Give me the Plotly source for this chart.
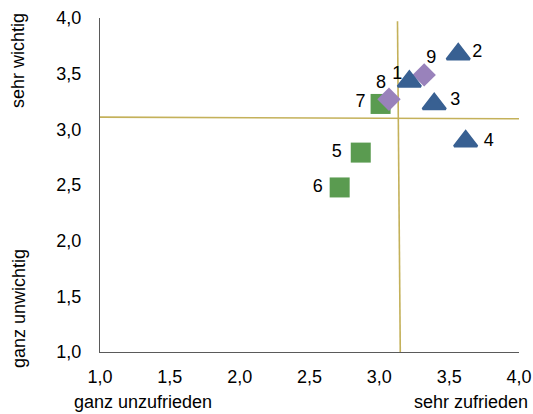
import plotly.graph_objects as go

# Portfolio points: satisfaction (x) vs. importance (y)
tri_ids = ["1", "2", "3", "4"]
tri_x = [3.215, 3.565, 3.393, 3.618]
tri_y = [3.430, 3.675, 3.228, 2.893]

dia_ids = ["8", "9"]
dia_x = [3.069, 3.321]
dia_y = [3.270, 3.489]

sq_ids = ["5", "6", "7"]
sq_x = [2.867, 2.716, 3.009]
sq_y = [2.791, 2.478, 3.228]

# Quadrant divider lines (mean satisfaction / mean importance)
vline_x = [3.130, 3.150]
vline_y = [3.97, 1.0]
hline_x = [1.0, 4.02]
hline_y = [3.110, 3.095]

tick_vals = [1.0, 1.5, 2.0, 2.5, 3.0, 3.5, 4.0]

# Label offsets in pixels for each numbered point
label_ids = ["1", "2", "3", "4", "5", "6", "7", "8", "9"]
label_dx = [-12, 19, 21, 23, -24, -22, -20, -8, 7]
label_dy = [7, 2, 3, 0, 0, 0, 1, 16, 16]

W, H = 533, 414
ML, MR, MT, MB = 100, 14, 18, 62
X0, X1, Y0, Y1 = 1.0, 4.0, 1.0, 4.0
px_per_x = (W - ML - MR) / (X1 - X0)
px_per_y = (H - MT - MB) / (Y1 - Y0)

pts = {}
for i, px, py in zip(tri_ids, tri_x, tri_y):
    pts[i] = (px, py)
for i, px, py in zip(dia_ids, dia_x, dia_y):
    pts[i] = (px, py)
for i, px, py in zip(sq_ids, sq_x, sq_y):
    pts[i] = (px, py)

lab_x = [pts[i][0] + dx / px_per_x for i, dx in zip(label_ids, label_dx)]
lab_y = [pts[i][1] + dy / px_per_y for i, dy in zip(label_ids, label_dy)]

GOLD = "#C4B15A"
BLUE = "#386092"
PURPLE = "#9982BB"
GREEN = "#5A9B50"
FONT = "Liberation Sans, Arial, sans-serif"
FS = 18

fig = go.Figure()

fig.add_trace(go.Scatter(x=vline_x, y=vline_y, mode="lines",
                         line=dict(color=GOLD, width=1.6), hoverinfo="skip"))
fig.add_trace(go.Scatter(x=hline_x, y=hline_y, mode="lines",
                         line=dict(color=GOLD, width=1.6), hoverinfo="skip"))

fig.add_trace(go.Scatter(x=sq_x, y=sq_y, mode="markers",
                         marker=dict(symbol="square", size=20, color=GREEN)))

# Point number labels, drawn beneath the triangles and diamonds
fig.add_trace(go.Scatter(x=lab_x, y=lab_y, mode="text", text=label_ids,
                         textposition="middle center",
                         textfont=dict(family=FONT, size=FS, color="#000000"),
                         hoverinfo="skip"))

fig.add_trace(go.Scatter(x=dia_x, y=dia_y, mode="markers",
                         marker=dict(symbol="diamond", size=18, color=PURPLE)))
fig.add_trace(go.Scatter(x=tri_x, y=tri_y, mode="markers",
                         marker=dict(symbol="triangle-up", size=20, color=BLUE,
                                     line=dict(color=BLUE, width=2.5))))

fig.update_layout(
    width=W, height=H,
    margin=dict(l=ML, r=MR, t=MT, b=MB, autoexpand=False),
    paper_bgcolor="white", plot_bgcolor="white",
    showlegend=False,
    separators=",.",
    font=dict(family=FONT, size=FS, color="#000000"),
    xaxis=dict(range=[X0, X1], tickvals=tick_vals, tickformat=".1f",
               showgrid=False, zeroline=False, showline=True,
               linecolor="#5a5a5a", linewidth=1.3, ticks="outside",
               ticklen=8, tickcolor="rgba(0,0,0,0)", automargin=False,
               tickfont=dict(size=FS), fixedrange=True),
    yaxis=dict(range=[Y0, Y1], tickvals=tick_vals, tickformat=".1f",
               showgrid=False, zeroline=False, showline=True,
               linecolor="#5a5a5a", linewidth=1.3, ticks="outside",
               ticklen=14, tickcolor="rgba(0,0,0,0)", automargin=False,
               tickfont=dict(size=FS), fixedrange=True),
)

# Axis end captions, positioned in pixels from the top-left of the page
caps = [
    ("ganz unzufrieden", 143, 402, 0),
    ("sehr zufrieden", 471, 402, 0),
    ("sehr wichtig", 18, 61, -90),
    ("ganz unwichtig", 19, 309, -90),
]
for text, cx, cy, ang in caps:
    fig.add_annotation(xref="paper", yref="paper",
                       x=(cx - ML) / (W - ML - MR),
                       y=1 - (cy - MT) / (H - MT - MB),
                       text=text, textangle=ang, showarrow=False,
                       xanchor="center", yanchor="middle",
                       font=dict(family=FONT, size=FS, color="#000000"))

fig.write_html("out.html")
